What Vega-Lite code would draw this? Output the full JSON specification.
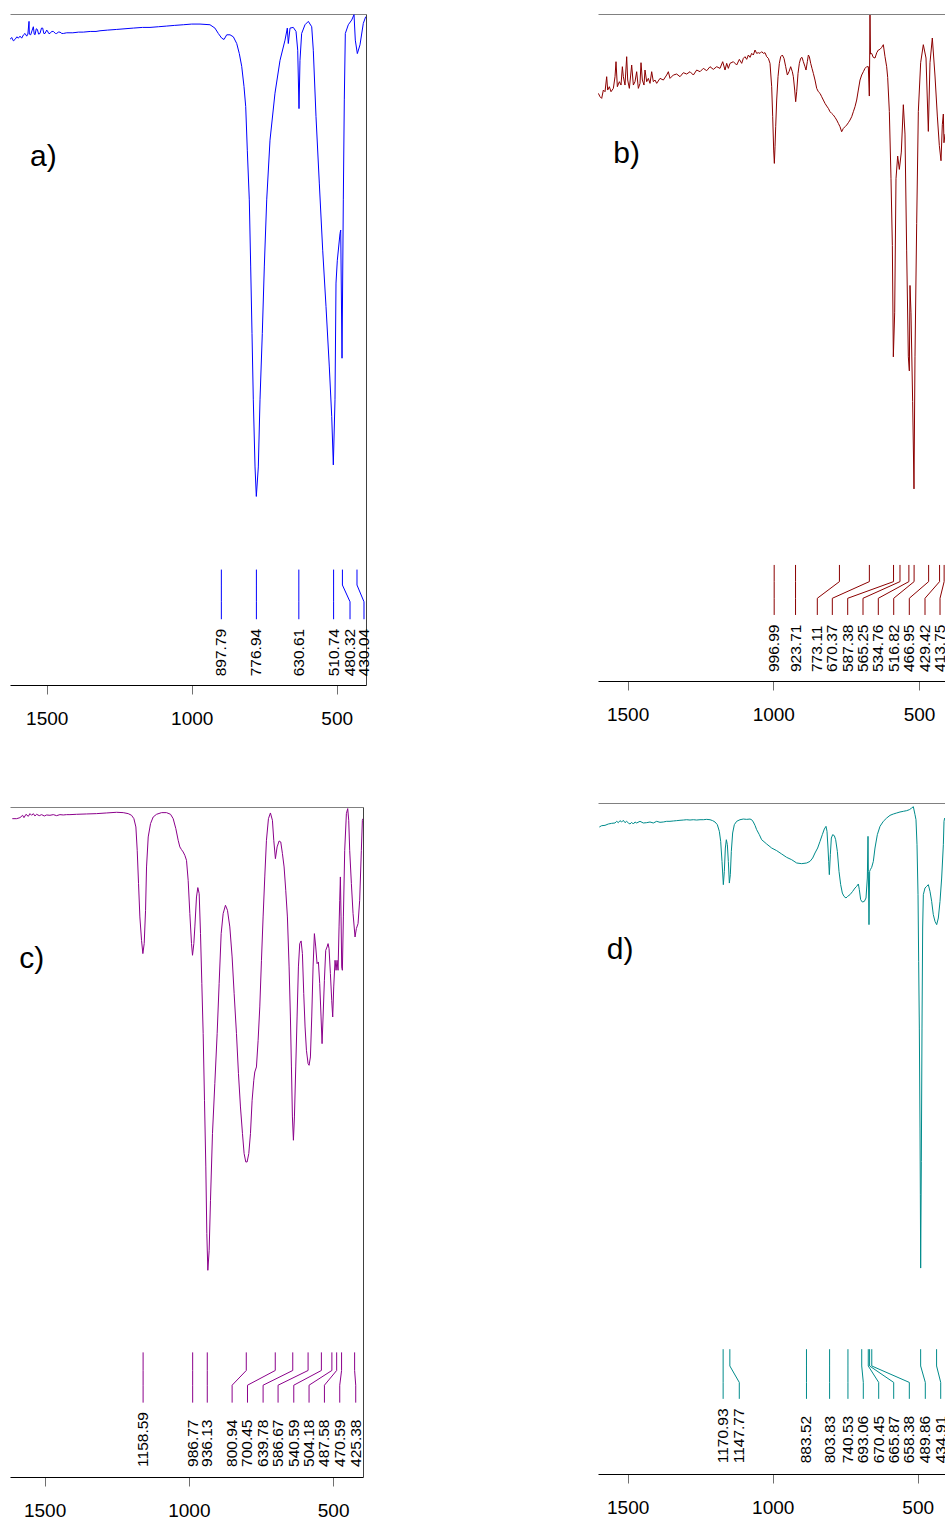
{
"$schema": "https://vega.github.io/schema/vega-lite/v6.json",
"background": "white",
"padding": {"left": 10, "top": 14, "right": 0, "bottom": 0},
"autosize": {"type": "pad"},
"config": {"view": {"stroke": null}, "font": "Liberation Sans"},
"datasets": {
"specA": [{"w":1626.6,"T":96.2},{"w":1620.8,"T":96.5},{"w":1615,"T":96.0},{"w":1609.3,"T":96.2},{"w":1603,"T":96.6},{"w":1597.8,"T":96.4},{"w":1592,"T":96.7},{"w":1586.3,"T":96.4},{"w":1580,"T":96.9},{"w":1574.8,"T":97.1},{"w":1569,"T":96.7},{"w":1565,"T":97.0},{"w":1561,"T":98.9},{"w":1559.9,"T":97.0},{"w":1555.3,"T":96.9},{"w":1550,"T":97.6},{"w":1546.1,"T":98.1},{"w":1543,"T":97.0},{"w":1540.3,"T":96.9},{"w":1536,"T":97.8},{"w":1532.3,"T":97.7},{"w":1528,"T":97.0},{"w":1523.1,"T":97.1},{"w":1518,"T":97.9},{"w":1513.9,"T":97.9},{"w":1510,"T":97.1},{"w":1505.8,"T":97.1},{"w":1500,"T":97.6},{"w":1497.8,"T":97.5},{"w":1493,"T":97.1},{"w":1488.6,"T":97.1},{"w":1483,"T":97.4},{"w":1477.1,"T":97.4},{"w":1470,"T":97.1},{"w":1465.6,"T":97.1},{"w":1460,"T":97.3},{"w":1454.1,"T":97.3},{"w":1448,"T":97.1},{"w":1442.6,"T":97.1},{"w":1431.1,"T":97.2},{"w":1410,"T":97.2},{"w":1390,"T":97.3},{"w":1373.7,"T":97.3},{"w":1350,"T":97.4},{"w":1330,"T":97.4},{"w":1316.2,"T":97.5},{"w":1290,"T":97.6},{"w":1258.7,"T":97.7},{"w":1230,"T":97.8},{"w":1201.2,"T":97.9},{"w":1170,"T":98.0},{"w":1143.8,"T":98.0},{"w":1115,"T":98.1},{"w":1086.3,"T":98.2},{"w":1060,"T":98.3},{"w":1028.8,"T":98.4},{"w":1000,"T":98.5},{"w":971.4,"T":98.5},{"w":937,"T":98.4},{"w":920,"T":97.9},{"w":908.3,"T":97.1},{"w":896.6,"T":96.4},{"w":888.6,"T":96.2},{"w":879.3,"T":96.9},{"w":867.9,"T":96.9},{"w":856.4,"T":96.6},{"w":844.8,"T":95.6},{"w":835.9,"T":94.1},{"w":827.6,"T":92.2},{"w":819.7,"T":89.2},{"w":813.8,"T":86.2},{"w":808.3,"T":79.7},{"w":801.4,"T":72.3},{"w":796.6,"T":62.3},{"w":792.1,"T":52.4},{"w":787.6,"T":42.5},{"w":781.7,"T":32.5},{"w":777.2,"T":28.1},{"w":770.3,"T":32.5},{"w":764.5,"T":42.5},{"w":756.6,"T":52.4},{"w":749.7,"T":62.3},{"w":741.4,"T":72.3},{"w":730,"T":81.2},{"w":712.8,"T":88.2},{"w":695.5,"T":93.1},{"w":678.3,"T":96.1},{"w":670.3,"T":97.9},{"w":666.9,"T":95.6},{"w":661,"T":97.9},{"w":649.7,"T":98.0},{"w":640.3,"T":97.4},{"w":634.5,"T":94.6},{"w":630,"T":85.9},{"w":626.6,"T":93.1},{"w":620.9,"T":97.1},{"w":609.3,"T":98.4},{"w":597.9,"T":98.9},{"w":586.2,"T":98.1},{"w":580.7,"T":94.6},{"w":571.4,"T":84.7},{"w":560,"T":74.8},{"w":548.3,"T":64.8},{"w":536.9,"T":56.4},{"w":525.5,"T":47.4},{"w":517.2,"T":40.0},{"w":511.7,"T":32.8},{"w":505.9,"T":42.5},{"w":502.4,"T":59.9},{"w":497.9,"T":63.3},{"w":488.6,"T":67.3},{"w":486.2,"T":67.8},{"w":481.7,"T":48.7},{"w":477.2,"T":72.3},{"w":473.8,"T":87.2},{"w":470.3,"T":97.1},{"w":460,"T":98.4},{"w":448.3,"T":99.1},{"w":440.3,"T":99.9},{"w":435.9,"T":96.1},{"w":428.9,"T":94.1},{"w":419.7,"T":95.4},{"w":408.3,"T":98.6},{"w":400,"T":99.6}],
"leadA": [
{"pk":"897.79","k":0,"w":897.79,"T":17.2},{"pk":"897.79","k":1,"w":897.79,"T":14.9},{"pk":"897.79","k":2,"w":897.79,"T":12.4},{"pk":"897.79","k":3,"w":897.79,"T":9.8},
{"pk":"776.94","k":0,"w":776.94,"T":17.2},{"pk":"776.94","k":1,"w":776.94,"T":14.9},{"pk":"776.94","k":2,"w":776.94,"T":12.4},{"pk":"776.94","k":3,"w":776.94,"T":9.8},
{"pk":"630.61","k":0,"w":630.61,"T":17.2},{"pk":"630.61","k":1,"w":630.61,"T":14.9},{"pk":"630.61","k":2,"w":630.61,"T":12.4},{"pk":"630.61","k":3,"w":630.61,"T":9.8},
{"pk":"510.74","k":0,"w":510.74,"T":17.2},{"pk":"510.74","k":1,"w":510.74,"T":14.9},{"pk":"510.74","k":2,"w":510.74,"T":12.4},{"pk":"510.74","k":3,"w":510.74,"T":9.8},
{"pk":"480.32","k":0,"w":480.32,"T":17.2},{"pk":"480.32","k":1,"w":480.32,"T":14.9},{"pk":"480.32","k":2,"w":454.1,"T":12.4},{"pk":"480.32","k":3,"w":454.1,"T":9.8},
{"pk":"430.04","k":0,"w":430.04,"T":17.2},{"pk":"430.04","k":1,"w":430.04,"T":14.9},{"pk":"430.04","k":2,"w":405.9,"T":12.4},{"pk":"430.04","k":3,"w":405.9,"T":9.8}],
"labA": [{"label":"897.79","w":897.79,"T":1.3},{"label":"776.94","w":776.94,"T":1.3},{"label":"630.61","w":630.61,"T":1.3},{"label":"510.74","w":510.74,"T":1.3},{"label":"480.32","w":454.1,"T":1.3},{"label":"430.04","w":405.9,"T":1.3}],
"specB": [{"w":1600.4,"T":88.1},{"w":1594.7,"T":87.6},{"w":1589.0,"T":87.35},{"w":1583.2,"T":88.6},{"w":1577.5,"T":88.35},{"w":1571.8,"T":90.6},{"w":1568.4,"T":88.6},{"w":1562.7,"T":89.1},{"w":1556.9,"T":88.35},{"w":1548.9,"T":88.85},{"w":1543.2,"T":90.6},{"w":1539.8,"T":92.85},{"w":1535.2,"T":89.1},{"w":1528.3,"T":89.85},{"w":1522.6,"T":89.35},{"w":1518.0,"T":92.1},{"w":1514.6,"T":90.6},{"w":1508.9,"T":89.35},{"w":1503.2,"T":93.6},{"w":1499.7,"T":90.1},{"w":1494.0,"T":88.85},{"w":1489.4,"T":90.85},{"w":1486.0,"T":92.35},{"w":1480.3,"T":89.35},{"w":1474.6,"T":89.85},{"w":1468.9,"T":91.35},{"w":1463.1,"T":88.85},{"w":1457.4,"T":89.6},{"w":1454.0,"T":92.7},{"w":1449.4,"T":90.1},{"w":1443.7,"T":89.35},{"w":1440.3,"T":91.6},{"w":1434.5,"T":89.85},{"w":1428.8,"T":90.35},{"w":1423.1,"T":89.6},{"w":1417.4,"T":91.35},{"w":1411.7,"T":89.85},{"w":1405.9,"T":90.1},{"w":1400.2,"T":89.6},{"w":1388.8,"T":90.35},{"w":1377.3,"T":90.1},{"w":1365.9,"T":90.85},{"w":1360.2,"T":91.35},{"w":1354.5,"T":90.35},{"w":1343.0,"T":90.85},{"w":1331.6,"T":91.0},{"w":1320.1,"T":90.6},{"w":1308.7,"T":91.2},{"w":1297.3,"T":91.0},{"w":1285.8,"T":91.35},{"w":1274.4,"T":90.85},{"w":1262.9,"T":91.6},{"w":1251.5,"T":91.35},{"w":1240.1,"T":91.85},{"w":1228.6,"T":91.5},{"w":1217.2,"T":92.1},{"w":1205.8,"T":91.7},{"w":1194.3,"T":92.1},{"w":1182.9,"T":91.85},{"w":1173.7,"T":92.85},{"w":1165.7,"T":91.6},{"w":1160.0,"T":92.6},{"w":1154.3,"T":91.85},{"w":1148.6,"T":92.6},{"w":1137.1,"T":92.85},{"w":1125.7,"T":92.35},{"w":1116.5,"T":93.2},{"w":1108.5,"T":92.6},{"w":1102.8,"T":93.35},{"w":1097.1,"T":93.6},{"w":1091.4,"T":93.2},{"w":1085.6,"T":93.85},{"w":1079.9,"T":93.5},{"w":1074.2,"T":94.1},{"w":1068.5,"T":93.85},{"w":1062.8,"T":94.6},{"w":1057.1,"T":94.1},{"w":1051.3,"T":94.2},{"w":1045.6,"T":94.1},{"w":1039.9,"T":94.35},{"w":1034.2,"T":94.1},{"w":1028.5,"T":94.2},{"w":1022.7,"T":93.6},{"w":1017.0,"T":93.35},{"w":1011.3,"T":92.6},{"w":1005.6,"T":89.1},{"w":1002.1,"T":84.6},{"w":998.7,"T":79.6},{"w":996.4,"T":77.6},{"w":994.1,"T":80.1},{"w":991.8,"T":83.1},{"w":988.4,"T":87.1},{"w":983.8,"T":90.6},{"w":979.3,"T":92.6},{"w":974.7,"T":93.6},{"w":969.0,"T":93.85},{"w":963.3,"T":93.35},{"w":957.5,"T":92.1},{"w":951.8,"T":90.85},{"w":946.1,"T":91.35},{"w":940.4,"T":92.1},{"w":934.7,"T":91.35},{"w":931.2,"T":90.6},{"w":926.6,"T":88.6},{"w":923.2,"T":86.85},{"w":919.8,"T":88.35},{"w":915.2,"T":91.1},{"w":910.6,"T":92.6},{"w":906.1,"T":93.35},{"w":901.5,"T":93.5},{"w":896.9,"T":92.85},{"w":891.2,"T":92.1},{"w":887.8,"T":91.6},{"w":883.2,"T":92.85},{"w":879.7,"T":93.85},{"w":876.3,"T":93.6},{"w":871.7,"T":92.6},{"w":867.2,"T":91.85},{"w":862.6,"T":91.1},{"w":856.9,"T":90.1},{"w":851.1,"T":88.85},{"w":845.4,"T":88.35},{"w":839.7,"T":88.1},{"w":834.0,"T":87.6},{"w":828.3,"T":87.1},{"w":822.6,"T":86.6},{"w":816.8,"T":86.2},{"w":811.1,"T":85.85},{"w":805.4,"T":85.35},{"w":799.7,"T":85.1},{"w":793.9,"T":84.85},{"w":788.2,"T":84.5},{"w":782.5,"T":84.1},{"w":776.8,"T":83.6},{"w":771.1,"T":83.1},{"w":765.4,"T":82.35},{"w":759.6,"T":82.85},{"w":753.9,"T":83.1},{"w":748.2,"T":83.35},{"w":742.5,"T":83.7},{"w":736.8,"T":84.1},{"w":731.0,"T":84.6},{"w":725.3,"T":85.35},{"w":719.6,"T":86.1},{"w":713.9,"T":87.1},{"w":708.2,"T":88.6},{"w":702.4,"T":90.1},{"w":696.7,"T":90.85},{"w":691.0,"T":91.35},{"w":685.3,"T":91.85},{"w":679.6,"T":92.1},{"w":673.9,"T":92.1},{"w":670.5,"T":87.7},{"w":669.5,"T":92.5},{"w":668.2,"T":99.85},{"w":666.5,"T":94.0},{"w":662.5,"T":94.1},{"w":657,"T":93.5},{"w":651.0,"T":93.4},{"w":645,"T":94.2},{"w":639.5,"T":94.6},{"w":633.9,"T":94.7},{"w":628,"T":95.0},{"w":622.4,"T":95.4},{"w":616.7,"T":93.6},{"w":611.0,"T":92.1},{"w":607.5,"T":90.5},{"w":601.8,"T":85.4},{"w":596.1,"T":75.3},{"w":591.5,"T":65.3},{"w":588.1,"T":48.6},{"w":583.5,"T":55.2},{"w":579.0,"T":75.3},{"w":573.2,"T":78.7},{"w":567.5,"T":76.7},{"w":560.7,"T":79.3},{"w":553.8,"T":86.4},{"w":548.1,"T":82.0},{"w":542.4,"T":64.6},{"w":536.6,"T":48.6},{"w":533.2,"T":46.5},{"w":530.9,"T":59.3},{"w":527.5,"T":55.2},{"w":521.8,"T":41.9},{"w":517.2,"T":28.8},{"w":513.8,"T":48.6},{"w":508.0,"T":68.6},{"w":502.3,"T":85.4},{"w":494.3,"T":92.7},{"w":485.2,"T":95.4},{"w":476.0,"T":93.4},{"w":468.0,"T":82.4},{"w":462.3,"T":92.7},{"w":454.3,"T":96.4},{"w":445.1,"T":90.7},{"w":437.1,"T":84.7},{"w":430.3,"T":80.3},{"w":424.5,"T":78.0},{"w":420.0,"T":83.4},{"w":416.5,"T":85.0},{"w":414.3,"T":80.7},{"w":410.8,"T":82.0}],
"leadB": [
{"pk":"996.99","k":0,"w":996.99,"T":17.4},{"pk":"996.99","k":1,"w":996.99,"T":14.9},{"pk":"996.99","k":2,"w":996.99,"T":12.4},{"pk":"996.99","k":3,"w":996.99,"T":9.9},
{"pk":"923.71","k":0,"w":923.71,"T":17.4},{"pk":"923.71","k":1,"w":923.71,"T":14.9},{"pk":"923.71","k":2,"w":923.71,"T":12.4},{"pk":"923.71","k":3,"w":923.71,"T":9.9},
{"pk":"773.11","k":0,"w":773.11,"T":17.4},{"pk":"773.11","k":1,"w":773.11,"T":14.9},{"pk":"773.11","k":2,"w":849.0,"T":12.4},{"pk":"773.11","k":3,"w":849.0,"T":9.9},
{"pk":"670.37","k":0,"w":670.37,"T":17.4},{"pk":"670.37","k":1,"w":670.37,"T":14.9},{"pk":"670.37","k":2,"w":797.5,"T":12.4},{"pk":"670.37","k":3,"w":797.5,"T":9.9},
{"pk":"587.38","k":0,"w":587.38,"T":17.4},{"pk":"587.38","k":1,"w":587.38,"T":14.9},{"pk":"587.38","k":2,"w":744.7,"T":12.4},{"pk":"587.38","k":3,"w":744.7,"T":9.9},
{"pk":"565.25","k":0,"w":565.25,"T":17.4},{"pk":"565.25","k":1,"w":565.25,"T":14.9},{"pk":"565.25","k":2,"w":692.2,"T":12.4},{"pk":"565.25","k":3,"w":692.2,"T":9.9},
{"pk":"534.76","k":0,"w":534.76,"T":17.4},{"pk":"534.76","k":1,"w":534.76,"T":14.9},{"pk":"534.76","k":2,"w":639.7,"T":12.4},{"pk":"534.76","k":3,"w":639.7,"T":9.9},
{"pk":"516.82","k":0,"w":516.82,"T":17.4},{"pk":"516.82","k":1,"w":516.82,"T":14.9},{"pk":"516.82","k":2,"w":586.8,"T":12.4},{"pk":"516.82","k":3,"w":586.8,"T":9.9},
{"pk":"466.95","k":0,"w":466.95,"T":17.4},{"pk":"466.95","k":1,"w":466.95,"T":14.9},{"pk":"466.95","k":2,"w":533.3,"T":12.4},{"pk":"466.95","k":3,"w":533.3,"T":9.9},
{"pk":"429.42","k":0,"w":429.42,"T":17.4},{"pk":"429.42","k":1,"w":429.42,"T":14.9},{"pk":"429.42","k":2,"w":479.4,"T":12.4},{"pk":"429.42","k":3,"w":479.4,"T":9.9},
{"pk":"413.75","k":0,"w":413.75,"T":17.4},{"pk":"413.75","k":1,"w":413.75,"T":14.9},{"pk":"413.75","k":2,"w":427.9,"T":12.4},{"pk":"413.75","k":3,"w":427.9,"T":9.9}],
"labB": [{"label":"996.99","w":996.99,"T":1.35},{"label":"923.71","w":923.71,"T":1.35},{"label":"773.11","w":849.0,"T":1.35},{"label":"670.37","w":797.5,"T":1.35},{"label":"587.38","w":744.7,"T":1.35},{"label":"565.25","w":692.2,"T":1.35},{"label":"534.76","w":639.7,"T":1.35},{"label":"516.82","w":586.8,"T":1.35},{"label":"466.95","w":533.3,"T":1.35},{"label":"429.42","w":479.4,"T":1.35},{"label":"413.75","w":427.9,"T":1.35}],
"specC": [{"w":1612.0,"T":98.26},{"w":1597.0,"T":98.26},{"w":1585.4,"T":98.41},{"w":1576.2,"T":98.76},{"w":1571.6,"T":98.41},{"w":1564.6,"T":98.91},{"w":1556.6,"T":98.61},{"w":1550.8,"T":99.01},{"w":1545.0,"T":98.76},{"w":1539.2,"T":99.01},{"w":1533.5,"T":98.66},{"w":1527.7,"T":98.91},{"w":1518.5,"T":98.71},{"w":1510.4,"T":98.86},{"w":1501.1,"T":98.66},{"w":1493.1,"T":98.81},{"w":1481.5,"T":98.76},{"w":1470.0,"T":98.86},{"w":1458.4,"T":98.71},{"w":1446.9,"T":98.86},{"w":1435.3,"T":98.81},{"w":1423.8,"T":98.86},{"w":1412.2,"T":98.86},{"w":1389.1,"T":98.91},{"w":1354.5,"T":98.96},{"w":1319.9,"T":99.01},{"w":1285.2,"T":99.11},{"w":1250.6,"T":99.21},{"w":1227.5,"T":99.16},{"w":1210.2,"T":99.01},{"w":1198.6,"T":98.76},{"w":1190.5,"T":98.26},{"w":1183.6,"T":97.02},{"w":1179.0,"T":93.54},{"w":1174.4,"T":88.56},{"w":1169.8,"T":83.59},{"w":1164.0,"T":80.1},{"w":1159.4,"T":78.12},{"w":1154.8,"T":79.61},{"w":1150.1,"T":84.58},{"w":1146.7,"T":91.05},{"w":1140.9,"T":95.53},{"w":1132.8,"T":97.52},{"w":1123.6,"T":98.51},{"w":1112.0,"T":98.91},{"w":1094.7,"T":99.16},{"w":1077.4,"T":99.16},{"w":1063.5,"T":98.91},{"w":1054.3,"T":98.26},{"w":1045.1,"T":96.77},{"w":1037.0,"T":95.03},{"w":1031.2,"T":94.04},{"w":1025.5,"T":93.64},{"w":1019.7,"T":93.29},{"w":1013.9,"T":92.79},{"w":1008.1,"T":92.04},{"w":1002.4,"T":89.06},{"w":996.6,"T":84.09},{"w":990.8,"T":79.61},{"w":987.3,"T":77.87},{"w":982.7,"T":79.61},{"w":979.2,"T":82.1},{"w":973.5,"T":86.57},{"w":968.9,"T":87.97},{"w":964.2,"T":87.07},{"w":959.6,"T":81.1},{"w":955.0,"T":73.64},{"w":950.4,"T":66.18},{"w":945.8,"T":56.23},{"w":941.2,"T":46.28},{"w":937.7,"T":36.33},{"w":934.2,"T":30.85},{"w":929.6,"T":33.84},{"w":925.0,"T":41.3},{"w":918.1,"T":51.25},{"w":910.0,"T":58.71},{"w":901.9,"T":66.18},{"w":895.0,"T":73.64},{"w":888.0,"T":81.1},{"w":881.1,"T":84.09},{"w":873.1,"T":85.33},{"w":866.1,"T":84.58},{"w":858.0,"T":82.1},{"w":850.0,"T":77.62},{"w":843.0,"T":72.14},{"w":834.9,"T":66.18},{"w":828.0,"T":60.2},{"w":821.1,"T":55.23},{"w":814.1,"T":51.25},{"w":808.4,"T":48.27},{"w":802.6,"T":47.02},{"w":798.0,"T":47.02},{"w":792.2,"T":48.27},{"w":786.4,"T":51.25},{"w":780.7,"T":56.23},{"w":774.9,"T":59.21},{"w":771.4,"T":60.45},{"w":765.7,"T":61.2},{"w":759.9,"T":65.18},{"w":754.1,"T":70.16},{"w":748.3,"T":77.12},{"w":742.6,"T":83.59},{"w":736.8,"T":89.56},{"w":731.0,"T":95.03},{"w":724.1,"T":98.26},{"w":717.2,"T":99.11},{"w":710.3,"T":98.02},{"w":705.6,"T":95.03},{"w":699.9,"T":92.29},{"w":694.1,"T":94.04},{"w":687.1,"T":94.93},{"w":681.4,"T":94.78},{"w":675.6,"T":93.04},{"w":669.8,"T":91.05},{"w":664.1,"T":87.57},{"w":658.3,"T":83.59},{"w":652.5,"T":76.13},{"w":647.9,"T":68.66},{"w":644.4,"T":61.2},{"w":641.0,"T":53.74},{"w":637.5,"T":50.26},{"w":634.0,"T":53.74},{"w":629.4,"T":61.2},{"w":624.8,"T":68.66},{"w":620.2,"T":76.13},{"w":615.6,"T":79.61},{"w":610.9,"T":80.01},{"w":606.3,"T":78.12},{"w":601.7,"T":72.14},{"w":597.1,"T":67.17},{"w":592.4,"T":63.69},{"w":586.7,"T":61.7},{"w":583.2,"T":61.45},{"w":578.6,"T":62.69},{"w":574.0,"T":68.66},{"w":569.4,"T":76.13},{"w":564.8,"T":81.1},{"w":560.1,"T":79.11},{"w":555.5,"T":76.62},{"w":550.9,"T":76.87},{"w":546.3,"T":73.64},{"w":541.7,"T":68.66},{"w":538.2,"T":64.68},{"w":534.7,"T":68.66},{"w":530.1,"T":74.14},{"w":525.5,"T":78.61},{"w":520.9,"T":79.11},{"w":517.4,"T":79.61},{"w":514.0,"T":78.86},{"w":509.3,"T":75.13},{"w":504.7,"T":71.15},{"w":501.3,"T":68.66},{"w":497.8,"T":73.14},{"w":493.2,"T":77.12},{"w":489.7,"T":75.63},{"w":486.3,"T":77.12},{"w":482.8,"T":75.63},{"w":479.3,"T":82.1},{"w":477.0,"T":86.08},{"w":474.7,"T":89.56},{"w":472.4,"T":83.59},{"w":470.1,"T":76.13},{"w":467.8,"T":75.63},{"w":464.3,"T":83.59},{"w":459.7,"T":93.54},{"w":453.9,"T":99.01},{"w":449.3,"T":99.76},{"w":445.8,"T":98.02},{"w":442.4,"T":93.54},{"w":436.6,"T":88.56},{"w":430.8,"T":84.09},{"w":423.9,"T":80.6},{"w":419.3,"T":81.85},{"w":413.5,"T":82.59},{"w":407.8,"T":86.08},{"w":402.0,"T":93.54},{"w":398.5,"T":98.02},{"w":396.3,"T":98.26}],
"leadC": [
{"pk":"1158.59","k":0,"w":1158.59,"T":18.6},{"pk":"1158.59","k":1,"w":1158.59,"T":15.9},{"pk":"1158.59","k":2,"w":1158.59,"T":13.7},{"pk":"1158.59","k":3,"w":1158.59,"T":11.1},
{"pk":"986.77","k":0,"w":986.77,"T":18.6},{"pk":"986.77","k":1,"w":986.77,"T":15.9},{"pk":"986.77","k":2,"w":986.77,"T":13.7},{"pk":"986.77","k":3,"w":986.77,"T":11.1},
{"pk":"936.13","k":0,"w":936.13,"T":18.6},{"pk":"936.13","k":1,"w":936.13,"T":15.9},{"pk":"936.13","k":2,"w":936.13,"T":13.7},{"pk":"936.13","k":3,"w":936.13,"T":11.1},
{"pk":"800.94","k":0,"w":800.94,"T":18.6},{"pk":"800.94","k":1,"w":800.94,"T":15.9},{"pk":"800.94","k":2,"w":850.0,"T":13.7},{"pk":"800.94","k":3,"w":850.0,"T":11.1},
{"pk":"700.45","k":0,"w":700.45,"T":18.6},{"pk":"700.45","k":1,"w":700.45,"T":15.9},{"pk":"700.45","k":2,"w":796.7,"T":13.7},{"pk":"700.45","k":3,"w":796.7,"T":11.1},
{"pk":"639.78","k":0,"w":639.78,"T":18.6},{"pk":"639.78","k":1,"w":639.78,"T":15.9},{"pk":"639.78","k":2,"w":742.6,"T":13.7},{"pk":"639.78","k":3,"w":742.6,"T":11.1},
{"pk":"586.67","k":0,"w":586.67,"T":18.6},{"pk":"586.67","k":1,"w":586.67,"T":15.9},{"pk":"586.67","k":2,"w":690.7,"T":13.7},{"pk":"586.67","k":3,"w":690.7,"T":11.1},
{"pk":"540.59","k":0,"w":540.59,"T":18.6},{"pk":"540.59","k":1,"w":540.59,"T":15.9},{"pk":"540.59","k":2,"w":636.3,"T":13.7},{"pk":"540.59","k":3,"w":636.3,"T":11.1},
{"pk":"504.18","k":0,"w":504.18,"T":18.6},{"pk":"504.18","k":1,"w":504.18,"T":15.9},{"pk":"504.18","k":2,"w":583.3,"T":13.7},{"pk":"504.18","k":3,"w":583.3,"T":11.1},
{"pk":"487.58","k":0,"w":487.58,"T":18.6},{"pk":"487.58","k":1,"w":487.58,"T":15.9},{"pk":"487.58","k":2,"w":530.0,"T":13.7},{"pk":"487.58","k":3,"w":530.0,"T":11.1},
{"pk":"470.59","k":0,"w":470.59,"T":18.6},{"pk":"470.59","k":1,"w":470.59,"T":15.9},{"pk":"470.59","k":2,"w":476.9,"T":13.7},{"pk":"470.59","k":3,"w":476.9,"T":11.1},
{"pk":"425.38","k":0,"w":425.38,"T":18.6},{"pk":"425.38","k":1,"w":425.38,"T":15.9},{"pk":"425.38","k":2,"w":421.5,"T":13.7},{"pk":"425.38","k":3,"w":421.5,"T":11.1}],
"labC": [{"label":"1158.59","w":1158.59,"T":1.5},{"label":"986.77","w":986.77,"T":1.5},{"label":"936.13","w":936.13,"T":1.5},{"label":"800.94","w":850.0,"T":1.5},{"label":"700.45","w":796.7,"T":1.5},{"label":"639.78","w":742.6,"T":1.5},{"label":"586.67","w":690.7,"T":1.5},{"label":"540.59","w":636.3,"T":1.5},{"label":"504.18","w":583.3,"T":1.5},{"label":"487.58","w":530.0,"T":1.5},{"label":"470.59","w":476.9,"T":1.5},{"label":"425.38","w":421.5,"T":1.5}],
"specD": [{"w":1597.8,"T":96.42},{"w":1589.8,"T":96.62},{"w":1578.3,"T":96.67},{"w":1566.8,"T":96.87},{"w":1555.3,"T":96.97},{"w":1543.8,"T":97.02},{"w":1538.0,"T":97.27},{"w":1532.3,"T":97.07},{"w":1526.6,"T":97.37},{"w":1520.8,"T":97.17},{"w":1515.1,"T":97.42},{"w":1509.3,"T":97.07},{"w":1503.6,"T":97.27},{"w":1497.8,"T":97.02},{"w":1492.1,"T":96.87},{"w":1486.3,"T":97.12},{"w":1480.6,"T":96.87},{"w":1474.8,"T":97.17},{"w":1469.1,"T":97.02},{"w":1457.6,"T":97.27},{"w":1446.1,"T":97.02},{"w":1434.6,"T":97.07},{"w":1423.1,"T":97.17},{"w":1411.6,"T":97.02},{"w":1400.1,"T":97.27},{"w":1388.6,"T":97.12},{"w":1377.1,"T":97.17},{"w":1365.6,"T":97.27},{"w":1354.1,"T":97.27},{"w":1342.7,"T":97.32},{"w":1331.2,"T":97.37},{"w":1319.7,"T":97.42},{"w":1308.2,"T":97.46},{"w":1296.7,"T":97.51},{"w":1285.2,"T":97.46},{"w":1273.7,"T":97.51},{"w":1262.2,"T":97.46},{"w":1250.7,"T":97.51},{"w":1239.2,"T":97.51},{"w":1227.7,"T":97.56},{"w":1216.2,"T":97.51},{"w":1207.0,"T":97.37},{"w":1199.0,"T":97.17},{"w":1190.9,"T":96.77},{"w":1184.0,"T":95.78},{"w":1179.4,"T":94.28},{"w":1174.8,"T":91.3},{"w":1170.2,"T":87.83},{"w":1166.8,"T":89.81},{"w":1163.3,"T":93.29},{"w":1159.9,"T":94.53},{"w":1156.4,"T":93.79},{"w":1153.0,"T":91.3},{"w":1149.5,"T":88.07},{"w":1146.1,"T":89.32},{"w":1142.7,"T":92.79},{"w":1138.1,"T":95.53},{"w":1132.3,"T":96.77},{"w":1124.3,"T":97.27},{"w":1112.8,"T":97.51},{"w":1101.3,"T":97.61},{"w":1089.8,"T":97.56},{"w":1078.3,"T":97.61},{"w":1072.5,"T":97.51},{"w":1066.8,"T":97.17},{"w":1061.0,"T":96.67},{"w":1055.3,"T":96.02},{"w":1046.1,"T":95.28},{"w":1038.1,"T":94.53},{"w":1020.8,"T":93.89},{"w":1003.6,"T":93.29},{"w":986.3,"T":92.9},{"w":969.1,"T":92.4},{"w":951.9,"T":91.9},{"w":934.6,"T":91.55},{"w":917.4,"T":91.06},{"w":900.1,"T":90.96},{"w":882.9,"T":91.06},{"w":871.4,"T":91.3},{"w":862.2,"T":91.8},{"w":854.2,"T":92.55},{"w":845.0,"T":93.29},{"w":836.9,"T":94.28},{"w":828.9,"T":95.28},{"w":822.0,"T":96.12},{"w":816.2,"T":96.52},{"w":812.8,"T":95.78},{"w":809.3,"T":93.29},{"w":807.0,"T":91.3},{"w":804.7,"T":89.32},{"w":801.3,"T":92.3},{"w":797.8,"T":94.78},{"w":793.2,"T":95.28},{"w":787.5,"T":95.13},{"w":782.9,"T":94.53},{"w":777.1,"T":92.79},{"w":771.4,"T":89.81},{"w":765.6,"T":87.83},{"w":759.9,"T":86.58},{"w":754.2,"T":86.09},{"w":747.3,"T":85.84},{"w":741.5,"T":86.09},{"w":733.5,"T":86.34},{"w":724.3,"T":86.83},{"w":716.2,"T":87.33},{"w":710.5,"T":87.58},{"w":704.7,"T":87.93},{"w":701.3,"T":87.08},{"w":696.7,"T":85.59},{"w":690.9,"T":85.24},{"w":684.0,"T":85.34},{"w":678.3,"T":85.84},{"w":673.7,"T":88.82},{"w":671.4,"T":95.03},{"w":670.2,"T":89.81},{"w":668.0,"T":81.87},{"w":665.7,"T":89.81},{"w":663.4,"T":90.06},{"w":658.7,"T":90.41},{"w":653.0,"T":91.3},{"w":647.3,"T":93.29},{"w":639.2,"T":95.28},{"w":630.0,"T":96.52},{"w":618.5,"T":97.27},{"w":607.0,"T":97.76},{"w":595.5,"T":98.16},{"w":584.0,"T":98.36},{"w":572.6,"T":98.51},{"w":561.1,"T":98.66},{"w":549.6,"T":98.76},{"w":538.1,"T":98.86},{"w":528.9,"T":99.0},{"w":520.8,"T":99.25},{"w":515.1,"T":99.45},{"w":509.3,"T":98.26},{"w":505.9,"T":97.51},{"w":502.4,"T":93.79},{"w":498.9,"T":86.34},{"w":496.7,"T":76.4},{"w":494.4,"T":66.46},{"w":492.1,"T":51.56},{"w":490.9,"T":41.62},{"w":489.8,"T":30.69},{"w":487.5,"T":46.59},{"w":485.2,"T":66.46},{"w":482.9,"T":81.37},{"w":480.6,"T":86.34},{"w":474.9,"T":87.33},{"w":469.1,"T":87.58},{"w":463.4,"T":87.83},{"w":457.6,"T":86.83},{"w":451.9,"T":85.34},{"w":446.2,"T":83.36},{"w":440.4,"T":82.36},{"w":434.6,"T":81.87},{"w":428.9,"T":82.86},{"w":423.1,"T":85.34},{"w":417.4,"T":88.82},{"w":411.6,"T":93.79},{"w":409.3,"T":97.27},{"w":407.0,"T":97.76}],
"leadD": [
{"pk":"1170.93","k":0,"w":1170.93,"T":18.6},{"pk":"1170.93","k":1,"w":1170.93,"T":16.1},{"pk":"1170.93","k":2,"w":1170.93,"T":13.65},{"pk":"1170.93","k":3,"w":1170.93,"T":11.2},
{"pk":"1147.77","k":0,"w":1147.77,"T":18.6},{"pk":"1147.77","k":1,"w":1147.77,"T":16.1},{"pk":"1147.77","k":2,"w":1115.2,"T":13.65},{"pk":"1147.77","k":3,"w":1115.2,"T":11.2},
{"pk":"883.52","k":0,"w":883.52,"T":18.6},{"pk":"883.52","k":1,"w":883.52,"T":16.1},{"pk":"883.52","k":2,"w":883.52,"T":13.65},{"pk":"883.52","k":3,"w":883.52,"T":11.2},
{"pk":"803.83","k":0,"w":803.83,"T":18.6},{"pk":"803.83","k":1,"w":803.83,"T":16.1},{"pk":"803.83","k":2,"w":803.83,"T":13.65},{"pk":"803.83","k":3,"w":803.83,"T":11.2},
{"pk":"740.53","k":0,"w":740.53,"T":18.6},{"pk":"740.53","k":1,"w":740.53,"T":16.1},{"pk":"740.53","k":2,"w":740.53,"T":13.65},{"pk":"740.53","k":3,"w":740.53,"T":11.2},
{"pk":"693.06","k":0,"w":693.06,"T":18.6},{"pk":"693.06","k":1,"w":693.06,"T":16.1},{"pk":"693.06","k":2,"w":687.6,"T":13.65},{"pk":"693.06","k":3,"w":687.6,"T":11.2},
{"pk":"670.45","k":0,"w":670.45,"T":18.6},{"pk":"670.45","k":1,"w":670.45,"T":16.1},{"pk":"670.45","k":2,"w":634.5,"T":13.65},{"pk":"670.45","k":3,"w":634.5,"T":11.2},
{"pk":"665.87","k":0,"w":665.87,"T":18.6},{"pk":"665.87","k":1,"w":665.87,"T":16.1},{"pk":"665.87","k":2,"w":582.8,"T":13.65},{"pk":"665.87","k":3,"w":582.8,"T":11.2},
{"pk":"658.38","k":0,"w":658.38,"T":18.6},{"pk":"658.38","k":1,"w":658.38,"T":16.1},{"pk":"658.38","k":2,"w":528.9,"T":13.65},{"pk":"658.38","k":3,"w":528.9,"T":11.2},
{"pk":"489.86","k":0,"w":489.86,"T":18.6},{"pk":"489.86","k":1,"w":489.86,"T":16.1},{"pk":"489.86","k":2,"w":473.8,"T":13.65},{"pk":"489.86","k":3,"w":473.8,"T":11.2},
{"pk":"434.91","k":0,"w":434.91,"T":18.6},{"pk":"434.91","k":1,"w":434.91,"T":16.1},{"pk":"434.91","k":2,"w":420.7,"T":13.65},{"pk":"434.91","k":3,"w":420.7,"T":11.2}],
"labD": [{"label":"1170.93","w":1170.93,"T":1.6},{"label":"1147.77","w":1115.2,"T":1.6},{"label":"883.52","w":883.52,"T":1.6},{"label":"803.83","w":803.83,"T":1.6},{"label":"740.53","w":740.53,"T":1.6},{"label":"693.06","w":687.6,"T":1.6},{"label":"670.45","w":634.5,"T":1.6},{"label":"665.87","w":582.8,"T":1.6},{"label":"658.38","w":528.9,"T":1.6},{"label":"489.86","w":473.8,"T":1.6},{"label":"434.91","w":420.7,"T":1.6}]
},
"hconcat": [
{"vconcat": [
{"width": 356, "height": 671,
 "resolve": {"axis": {"x": "independent", "y": "independent"}},
 "layer": [
  {"data": {"name": "specA"}, "mark": {"type": "line", "color": "#0000FF", "strokeWidth": 1, "clip": true},
   "encoding": {"x": {"field": "w", "type": "quantitative", "scale": {"domain": [1626.6, 399.0], "nice": false, "zero": false},
     "axis": {"orient": "bottom", "values": [1500, 1000, 500], "format": "d", "title": null, "grid": false, "domainColor": "#000000", "tickColor": "#707070", "tickSize": 9, "labelFontSize": 19, "labelFont": "Liberation Sans", "labelColor": "#000000", "labelPadding": 15, "labelFlush": false, "labelOverlap": false}},
    "y": {"field": "T", "type": "quantitative", "scale": {"domain": [0, 100], "nice": false, "zero": false},
     "axis": {"orient": "right", "ticks": false, "labels": false, "title": null, "grid": false, "domainColor": "#404040"}}}},
  {"data": {"name": "leadA"}, "mark": {"type": "line", "color": "#0000FF", "strokeWidth": 1, "clip": true},
   "encoding": {"x": {"field": "w", "type": "quantitative", "axis": {"orient": "top", "ticks": false, "labels": false, "title": null, "grid": false, "domainColor": "#808080"}},
    "y": {"field": "T", "type": "quantitative", "axis": null}, "detail": {"field": "pk"}, "order": {"field": "k"}}},
  {"data": {"name": "labA"}, "mark": {"type": "text", "angle": 270, "align": "left", "baseline": "middle", "fontSize": 15.5, "font": "Liberation Sans", "color": "#000000"},
   "encoding": {"x": {"field": "w", "type": "quantitative", "axis": null}, "y": {"field": "T", "type": "quantitative", "axis": null}, "text": {"field": "label"}}},
  {"data": {"values": [{"tag": "a)", "w": 1557.6, "T": 77.3}]}, "mark": {"type": "text", "align": "left", "baseline": "alphabetic", "fontSize": 30, "font": "Liberation Sans", "color": "#000000"},
   "encoding": {"x": {"field": "w", "type": "quantitative", "axis": null}, "y": {"field": "T", "type": "quantitative", "axis": null}, "text": {"field": "tag"}}}
 ]},
{"width": 353, "height": 670,
 "resolve": {"axis": {"x": "independent", "y": "independent"}},
 "layer": [
  {"data": {"name": "specC"}, "mark": {"type": "line", "color": "#8B008B", "strokeWidth": 1, "clip": true},
   "encoding": {"x": {"field": "w", "type": "quantitative", "scale": {"domain": [1620.0, 396.3], "nice": false, "zero": false},
     "axis": {"orient": "bottom", "values": [1500, 1000, 500], "format": "d", "title": null, "grid": false, "domainColor": "#000000", "tickColor": "#707070", "tickSize": 9, "labelFontSize": 19, "labelFont": "Liberation Sans", "labelColor": "#000000", "labelPadding": 15, "labelFlush": false, "labelOverlap": false}},
    "y": {"field": "T", "type": "quantitative", "scale": {"domain": [0, 100], "nice": false, "zero": false},
     "axis": {"orient": "right", "ticks": false, "labels": false, "title": null, "grid": false, "domainColor": "#404040"}}}},
  {"data": {"name": "leadC"}, "mark": {"type": "line", "color": "#8B008B", "strokeWidth": 1, "clip": true},
   "encoding": {"x": {"field": "w", "type": "quantitative", "axis": {"orient": "top", "ticks": false, "labels": false, "title": null, "grid": false, "domainColor": "#808080"}},
    "y": {"field": "T", "type": "quantitative", "axis": null}, "detail": {"field": "pk"}, "order": {"field": "k"}}},
  {"data": {"name": "labC"}, "mark": {"type": "text", "angle": 270, "align": "left", "baseline": "middle", "fontSize": 15.5, "font": "Liberation Sans", "color": "#000000"},
   "encoding": {"x": {"field": "w", "type": "quantitative", "axis": null}, "y": {"field": "T", "type": "quantitative", "axis": null}, "text": {"field": "label"}}},
  {"data": {"values": [{"tag": "c)", "w": 1587.8, "T": 76.0}]}, "mark": {"type": "text", "align": "left", "baseline": "alphabetic", "fontSize": 30, "font": "Liberation Sans", "color": "#000000"},
   "encoding": {"x": {"field": "w", "type": "quantitative", "axis": null}, "y": {"field": "T", "type": "quantitative", "axis": null}, "text": {"field": "tag"}}}
 ]}
], "spacing": 122, "bounds": "flush"},
{"vconcat": [
{"width": 347, "height": 667,
 "resolve": {"axis": {"x": "independent", "y": "independent"}},
 "layer": [
  {"data": {"name": "specB"}, "mark": {"type": "line", "color": "#8B0000", "strokeWidth": 1, "clip": true},
   "encoding": {"x": {"field": "w", "type": "quantitative", "scale": {"domain": [1601.6, 410.8], "nice": false, "zero": false},
     "axis": {"orient": "bottom", "values": [1500, 1000, 500], "format": "d", "title": null, "grid": false, "domainColor": "#000000", "tickColor": "#707070", "tickSize": 9, "labelFontSize": 19, "labelFont": "Liberation Sans", "labelColor": "#000000", "labelPadding": 15, "labelFlush": false, "labelOverlap": false}},
    "y": {"field": "T", "type": "quantitative", "scale": {"domain": [0, 100], "nice": false, "zero": false}, "axis": null}}},
  {"data": {"name": "leadB"}, "mark": {"type": "line", "color": "#8B0000", "strokeWidth": 1, "clip": true},
   "encoding": {"x": {"field": "w", "type": "quantitative", "axis": {"orient": "top", "ticks": false, "labels": false, "title": null, "grid": false, "domainColor": "#808080"}},
    "y": {"field": "T", "type": "quantitative", "axis": null}, "detail": {"field": "pk"}, "order": {"field": "k"}}},
  {"data": {"name": "labB"}, "mark": {"type": "text", "angle": 270, "align": "left", "baseline": "middle", "fontSize": 15.5, "font": "Liberation Sans", "color": "#000000", "clip": true},
   "encoding": {"x": {"field": "w", "type": "quantitative", "axis": null}, "y": {"field": "T", "type": "quantitative", "axis": null}, "text": {"field": "label"}}},
  {"data": {"values": [{"tag": "b)", "w": 1549.1, "T": 77.6}]}, "mark": {"type": "text", "align": "left", "baseline": "alphabetic", "fontSize": 30, "font": "Liberation Sans", "color": "#000000"},
   "encoding": {"x": {"field": "w", "type": "quantitative", "axis": null}, "y": {"field": "T", "type": "quantitative", "axis": null}, "text": {"field": "tag"}}}
 ]},
{"width": 347, "height": 671,
 "resolve": {"axis": {"x": "independent", "y": "independent"}},
 "layer": [
  {"data": {"name": "specD"}, "mark": {"type": "line", "color": "#008B8B", "strokeWidth": 1, "clip": true},
   "encoding": {"x": {"field": "w", "type": "quantitative", "scale": {"domain": [1602.4, 405.9], "nice": false, "zero": false},
     "axis": {"orient": "bottom", "values": [1500, 1000, 500], "format": "d", "title": null, "grid": false, "domainColor": "#000000", "tickColor": "#707070", "tickSize": 9, "labelFontSize": 19, "labelFont": "Liberation Sans", "labelColor": "#000000", "labelPadding": 15, "labelFlush": false, "labelOverlap": false}},
    "y": {"field": "T", "type": "quantitative", "scale": {"domain": [0, 100], "nice": false, "zero": false}, "axis": null}}},
  {"data": {"name": "leadD"}, "mark": {"type": "line", "color": "#008B8B", "strokeWidth": 1, "clip": true},
   "encoding": {"x": {"field": "w", "type": "quantitative", "axis": {"orient": "top", "ticks": false, "labels": false, "title": null, "grid": false, "domainColor": "#808080"}},
    "y": {"field": "T", "type": "quantitative", "axis": null}, "detail": {"field": "pk"}, "order": {"field": "k"}}},
  {"data": {"name": "labD"}, "mark": {"type": "text", "angle": 270, "align": "left", "baseline": "middle", "fontSize": 15.5, "font": "Liberation Sans", "color": "#000000", "clip": true},
   "encoding": {"x": {"field": "w", "type": "quantitative", "axis": null}, "y": {"field": "T", "type": "quantitative", "axis": null}, "text": {"field": "label"}}},
  {"data": {"values": [{"tag": "d)", "w": 1572.4, "T": 76.8}]}, "mark": {"type": "text", "align": "left", "baseline": "alphabetic", "fontSize": 30, "font": "Liberation Sans", "color": "#000000"},
   "encoding": {"x": {"field": "w", "type": "quantitative", "axis": null}, "y": {"field": "T", "type": "quantitative", "axis": null}, "text": {"field": "tag"}}}
 ]}
], "spacing": 122, "bounds": "flush"}
], "spacing": 588, "bounds": "flush"
}
